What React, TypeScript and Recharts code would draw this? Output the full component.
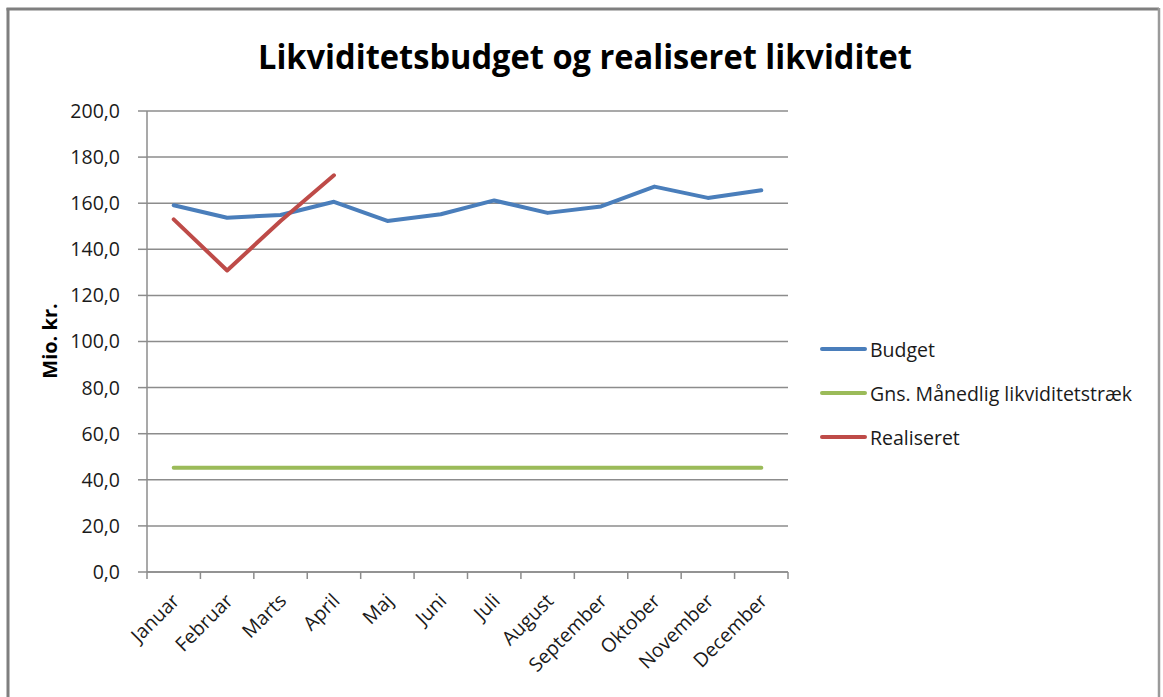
import React from 'react';
import { LineChart, Line, XAxis, YAxis, CartesianGrid, Legend } from 'recharts';

const months = ['Januar', 'Februar', 'Marts', 'April', 'Maj', 'Juni', 'Juli', 'August', 'September', 'Oktober', 'November', 'December'];
const budget = [159.1, 153.7, 154.9, 160.6, 152.3, 155.2, 161.2, 155.8, 158.6, 167.2, 162.3, 165.6];
const gns = [45.2, 45.2, 45.2, 45.2, 45.2, 45.2, 45.2, 45.2, 45.2, 45.2, 45.2, 45.2];
const realiseret: (number | null)[] = [153.0, 130.8, 152.3, 172.1, null, null, null, null, null, null, null, null];
const yTicks = [0, 20, 40, 60, 80, 100, 120, 140, 160, 180, 200];

const seriesNames = ['Budget', 'Gns. Månedlig likviditetstræk', 'Realiseret'];
const seriesColors = ['#4a7ebb', '#9bbb59', '#be4b48'];

const data = months.map((m, i) => ({
  pos: i + 0.5,
  month: m,
  budget: budget[i],
  gns: gns[i],
  realiseret: realiseret[i],
}));

const xTicks: number[] = months.flatMap((_, i) => [i, i + 0.5]).concat([months.length]);

const FONT = "'Open Sans', sans-serif";
const GRID = '#8c8c8c';

const XTick = (props: any) => {
  const { x, y, payload } = props;
  const v = payload.value as number;
  if (Number.isInteger(v)) {
    return <line x1={x} x2={x} y1={y} y2={y + 7} stroke={GRID} strokeWidth={1.5} />;
  }
  const label = months[Math.floor(v)];
  return (
    <text
      transform={`translate(${x + 7},${y + 30}) rotate(-45)`}
      textAnchor="end"
      fontFamily={FONT}
      fontSize={19.5}
      fill="#1a1a1a"
    >
      {label}
    </text>
  );
};

const LegendContent = () => (
  <div style={{ fontFamily: FONT, fontSize: 19.5, color: '#1a1a1a' }}>
    {seriesNames.map((n, i) => (
      <div key={n} style={{ height: 44, display: 'flex', alignItems: 'center', whiteSpace: 'nowrap' }}>
        <svg width={48} height={10} style={{ marginRight: 2 }}>
          <line x1={2} x2={45} y1={5} y2={5} stroke={seriesColors[i]} strokeWidth={4} strokeLinecap="round" />
        </svg>
        <span>{n}</span>
      </div>
    ))}
  </div>
);

export default function App() {
  return (
    <div style={{ position: 'absolute', left: 0, top: 0, width: 1163, height: 697, background: '#fff', overflow: 'hidden' }}>
      <LineChart
        width={1163}
        height={697}
        data={data}
        margin={{ top: 111, right: 375, bottom: 0, left: 0 }}
      >
        <CartesianGrid vertical={false} stroke={GRID} strokeWidth={1.5} />
        <XAxis
          dataKey="pos"
          type="number"
          domain={[0, 12]}
          ticks={xTicks}
          interval={0}
          height={125}
          tickSize={0}
          tickMargin={0}
          tickLine={false}
          axisLine={{ stroke: GRID, strokeWidth: 1.5 }}
          tick={<XTick />}
        />
        <YAxis
          type="number"
          domain={[0, 200]}
          ticks={yTicks}
          interval={0}
          width={147}
          tickSize={9}
          tickMargin={18}
          tickFormatter={(v: number) => v.toFixed(1).replace('.', ',')}
          axisLine={{ stroke: GRID, strokeWidth: 1.5 }}
          tickLine={{ stroke: GRID, strokeWidth: 1.5 }}
          tick={{ fontFamily: FONT, fontSize: 19.5, fill: '#1a1a1a' }}
        />
        <Legend
          layout="horizontal"
          align="center"
          verticalAlign="middle"
          wrapperStyle={{ left: 820, top: 327, width: 340, height: 132 }}
          content={<LegendContent />}
        />
        <Line dataKey="budget" name={seriesNames[0]} stroke={seriesColors[0]} strokeWidth={4} dot={false} isAnimationActive={false} strokeLinecap="round" strokeLinejoin="round" />
        <Line dataKey="gns" name={seriesNames[1]} stroke={seriesColors[1]} strokeWidth={4} dot={false} isAnimationActive={false} strokeLinecap="round" strokeLinejoin="round" />
        <Line dataKey="realiseret" name={seriesNames[2]} stroke={seriesColors[2]} strokeWidth={4} dot={false} isAnimationActive={false} strokeLinecap="round" strokeLinejoin="round" />
      </LineChart>
      <svg width={1163} height={697} style={{ position: 'absolute', left: 0, top: 0, pointerEvents: 'none' }}>
        <line x1={8} x2={8} y1={8} y2={697} stroke="#7f7f7f" strokeWidth={3} />
        <line x1={6.5} x2={1159} y1={9} y2={9} stroke="#7f7f7f" strokeWidth={3} />
        <line x1={1159} x2={1159} y1={8} y2={697} stroke="#9a9a9a" strokeWidth={2.5} />
        <text
          x={585}
          y={69}
          textAnchor="middle"
          fontFamily={FONT}
          fontWeight={700}
          fontSize={34}
          fill="#000"
          textLength={654}
          lengthAdjust="spacingAndGlyphs"
        >
          Likviditetsbudget og realiseret likviditet
        </text>
        <text
          transform="translate(57,341) rotate(-90)"
          textAnchor="middle"
          fontFamily={FONT}
          fontWeight={700}
          fontSize={20}
          fill="#000"
        >
          Mio. kr.
        </text>
      </svg>
    </div>
  );
}
